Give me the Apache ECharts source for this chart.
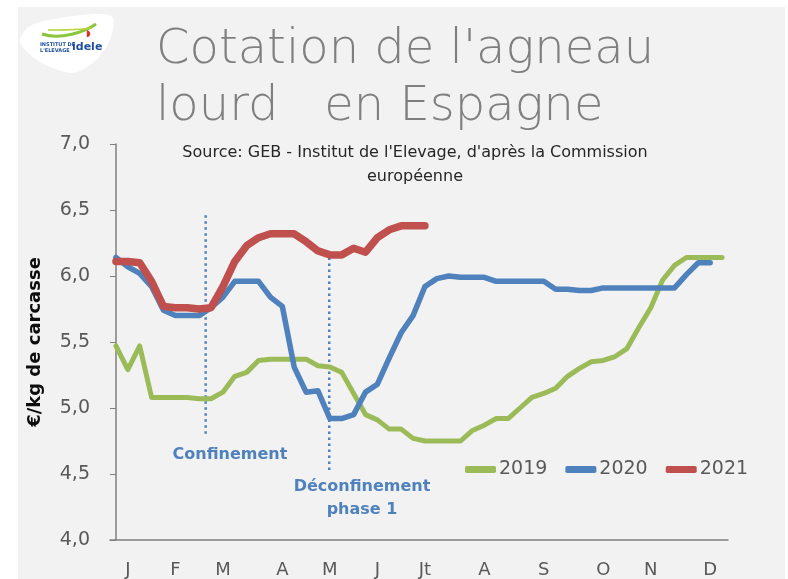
<!DOCTYPE html>
<html>
<head>
<meta charset="utf-8">
<script src="https://cdn.jsdelivr.net/npm/echarts@6/dist/echarts.min.js"></script>
<style>
html, body { margin: 0; padding: 0; background: #fff; }
#main { width: 788px; height: 579px; }
</style>
</head>
<body>
<div id="main"></div>
<script>
// semaines 1..52
var weeks = [];
for (var w = 1; w <= 52; w++) weeks.push(String(w));

// libelles des mois (par semaine)
var monthLabels = ['', 'J', '', '', '', 'F', '', '', '', 'M', '', '', '', '', 'A', '', '', '', 'M', '', '', '', 'J', '', '', '', 'Jt', '', '', '', '', 'A', '', '', '', '', 'S', '', '', '', '', 'O', '', '', '', 'N', '', '', '', '', 'D', ''];

var yTicks = [4.0, 4.5, 5.0, 5.5, 6.0, 6.5, 7.0];

var data2019 = [5.47, 5.29, 5.47, 5.08, 5.08, 5.08, 5.08, 5.07, 5.07, 5.12,
                5.24, 5.27, 5.36, 5.37, 5.37, 5.37, 5.37, 5.32, 5.31, 5.27,
                5.11, 4.95, 4.91, 4.84, 4.84, 4.77, 4.75, 4.75, 4.75, 4.75,
                4.83, 4.87, 4.92, 4.92, 5.00, 5.08, 5.11, 5.15, 5.24, 5.30,
                5.35, 5.36, 5.39, 5.45, 5.61, 5.76, 5.97, 6.08, 6.14, 6.14,
                6.14, 6.14];

var data2020 = [6.14, 6.07, 6.02, 5.92, 5.74, 5.70, 5.70, 5.70, 5.76, 5.84,
                5.96, 5.96, 5.96, 5.84, 5.77, 5.31, 5.12, 5.13, 4.92, 4.92,
                4.95, 5.12, 5.18, 5.38, 5.57, 5.70, 5.92, 5.98, 6.00, 5.99,
                5.99, 5.99, 5.96, 5.96, 5.96, 5.96, 5.96, 5.90, 5.90, 5.89,
                5.89, 5.91, 5.91, 5.91, 5.91, 5.91, 5.91, 5.91, 6.01, 6.10,
                6.10, null];

var data2021 = [6.11, 6.11, 6.10, 5.96, 5.77, 5.76, 5.76, 5.75, 5.76, 5.92,
                6.11, 6.23, 6.29, 6.32, 6.32, 6.32, 6.26, 6.19, 6.16, 6.16,
                6.21, 6.18, 6.29, 6.35, 6.38, 6.38, 6.38];

// lignes pointillees (position en semaine, prix)
var confinementLine = [[7.55, 6.46], [7.55, 4.80]];
var deconfinementLine = [[17.95, 6.14], [17.95, 4.51]];

var chart = echarts.init(document.getElementById('main'));

var grayText = '#595959';
var font = 'DejaVu Sans';

var option = {
    backgroundColor: '#ffffff',
    animation: false,
    textStyle: { fontFamily: font },
    title: [
        {
            text: "Cotation de l'agneau\nlourd   en Espagne",
            left: 151,
            top: 17,
            textStyle: { fontFamily: font, fontSize: 48, fontWeight: 300, color: '#7f7f7f', lineHeight: 57 }
        },
        {
            text: "Source: GEB - Institut de l'Elevage, d'après la Commission\neuropéenne",
            left: 410,
            top: 136,
            textAlign: 'center',
            textStyle: { fontFamily: font, fontSize: 16, fontWeight: 'normal', color: '#262626', lineHeight: 24, align: 'center' }
        }
    ],
    legend: {
        data: ['2019', '2020', '2021'],
        left: 460,
        top: 455,
        icon: 'roundRect',
        itemWidth: 31,
        itemHeight: 7,
        itemGap: 18,
        textStyle: { fontFamily: font, fontSize: 19, color: grayText, padding: [0, 0, 0, -2] }
    },
    grid: { left: 110, right: 60, top: 144, bottom: 39, containLabel: false },
    xAxis: [
        {
            type: 'category',
            data: weeks,
            boundaryGap: true,
            axisLine: { lineStyle: { color: '#7f7f7f', width: 1.5 } },
            axisTick: { show: false },
            axisLabel: {
                interval: 0,
                margin: 21,
                color: grayText,
                fontSize: 18,
                fontFamily: font,
                formatter: function (v, i) { return monthLabels[i]; }
            },
            splitLine: { show: false }
        },
        {
            type: 'value',
            min: -0.5,
            max: 51.5,
            show: false
        }
    ],
    yAxis: {
        type: 'value',
        min: yTicks[0],
        max: yTicks[yTicks.length - 1],
        interval: 0.5,
        name: '€/kg de carcasse',
        nameLocation: 'middle',
        nameRotate: 90,
        nameGap: 66,
        nameTextStyle: { fontFamily: font, fontSize: 18, fontWeight: 'bold', color: '#0d0d0d' },
        axisLine: { show: true, lineStyle: { color: '#7f7f7f', width: 1.5 } },
        axisTick: { show: true, length: 6, lineStyle: { color: '#7f7f7f' } },
        axisLabel: {
            color: grayText,
            fontSize: 19,
            fontFamily: font,
            margin: 20,
            formatter: function (v) { return v.toFixed(1).replace('.', ','); }
        },
        splitLine: { show: false }
    },
    series: [
        {
            name: 'confinement',
            type: 'line',
            xAxisIndex: 1,
            data: confinementLine,
            symbol: 'none',
            lineStyle: { color: '#4f81bd', width: 2.5, type: [2.5, 3.5] },
            z: 1
        },
        {
            name: 'deconfinement',
            type: 'line',
            xAxisIndex: 1,
            data: deconfinementLine,
            symbol: 'none',
            lineStyle: { color: '#4f81bd', width: 2.5, type: [2.5, 3.5] },
            z: 1
        },
        {
            name: '2019',
            type: 'line',
            data: data2019,
            symbol: 'none',
            itemStyle: { color: '#9bbb59' },
            lineStyle: { color: '#9bbb59', width: 5, cap: 'round', join: 'round' },
            z: 2
        },
        {
            name: '2020',
            type: 'line',
            data: data2020,
            symbol: 'none',
            itemStyle: { color: '#4f81bd' },
            lineStyle: { color: '#4f81bd', width: 5.5, cap: 'round', join: 'round' },
            z: 3
        },
        {
            name: '2021',
            type: 'line',
            data: data2021,
            symbol: 'none',
            itemStyle: { color: '#c0504d' },
            lineStyle: { color: '#c0504d', width: 7.5, cap: 'round', join: 'round' },
            z: 4
        }
    ],
    graphic: [
        // fond gris
        {
            type: 'rect',
            z: -10,
            silent: true,
            shape: { x: 18, y: 7, width: 767, height: 580 },
            style: { fill: '#f2f2f2' }
        },
        // logo idele
        {
            type: 'polygon',
            z: -5,
            silent: true,
            shape: {
                points: [[20, 42], [30, 26], [60, 18], [100, 14], [113, 18], [110, 40], [98, 58], [82, 70], [70, 73], [40, 62]],
                smooth: 0.3
            },
            style: { fill: '#ffffff' }
        },
        {
            type: 'bezierCurve',
            z: -4,
            silent: true,
            shape: { x1: 42, y1: 34, x2: 96, y2: 24, cpx1: 60, cpy1: 40, cpx2: 85, cpy2: 32 },
            style: { stroke: '#8cc63f', lineWidth: 3, fill: null }
        },
        {
            type: 'bezierCurve',
            z: -4,
            silent: true,
            shape: { x1: 48, y1: 30, x2: 92, y2: 28, cpx1: 62, cpy1: 30, cpx2: 80, cpy2: 30 },
            style: { stroke: '#b5d334', lineWidth: 1.5, fill: null }
        },
        {
            type: 'text',
            z: -4,
            silent: true,
            style: { text: 'INSTITUT DE\nL\'ELEVAGE', x: 40, y: 42, fill: '#1f4e9c', font: 'bold 5px DejaVu Sans', lineHeight: 6 }
        },
        {
            type: 'text',
            z: -4,
            silent: true,
            style: { text: 'idele', x: 72, y: 42, fill: '#1f4e9c', font: 'bold 11px DejaVu Sans' }
        },
        {
            type: 'text',
            z: -4,
            silent: true,
            style: { text: '◗', x: 86, y: 29, fill: '#d9322b', font: 'bold 9px DejaVu Sans' }
        },
        // annotations
        {
            type: 'text',
            style: { text: 'Confinement', x: 230, y: 455, textAlign: 'center', textVerticalAlign: 'middle', fill: '#4f81bd', font: 'bold 16px DejaVu Sans' }
        },
        {
            type: 'text',
            style: { text: 'Déconfinement\nphase 1', x: 362, y: 498, textAlign: 'center', textVerticalAlign: 'middle', fill: '#4f81bd', font: 'bold 16px DejaVu Sans', lineHeight: 23 }
        }
    ]
};

chart.setOption(option);
</script>
</body>
</html>
